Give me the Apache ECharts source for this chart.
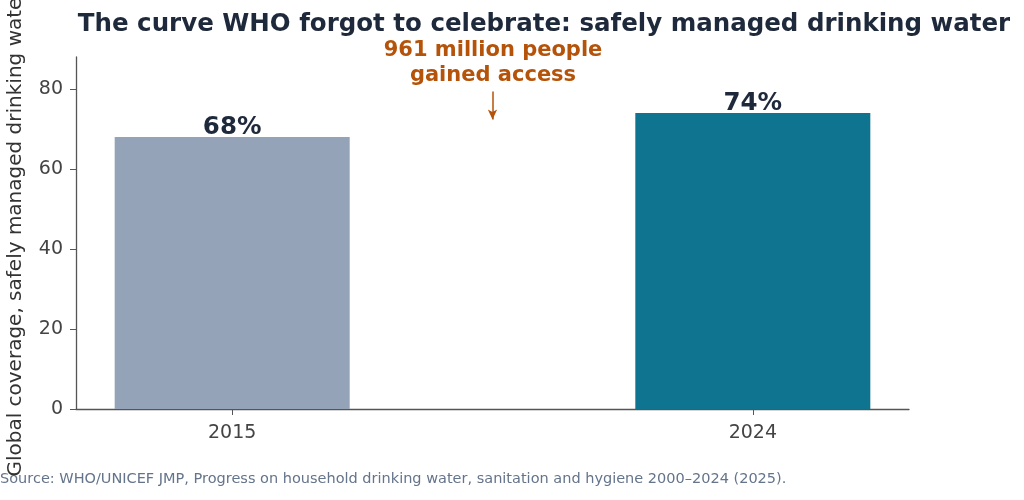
<!DOCTYPE html>
<html>
<head>
<meta charset="utf-8">
<script src="https://cdn.jsdelivr.net/npm/echarts@6/dist/echarts.min.js"></script>
<style>
  html, body { margin: 0; padding: 0; background: #fff; }
  #chart { width: 1024px; height: 500px; }
</style>
</head>
<body>
<div id="chart"></div>
<script>
// data
const years = ['2015', '2024'];
const coverage = [68, 74];
const barColors = ['#94a3b8', '#0e7490'];
const yTicks = [0, 20, 40, 60, 80];

const font = 'DejaVu Sans';
const chart = echarts.init(document.getElementById('chart'));

const barData = coverage.map((v, i) => ({
  value: [i, v],
  itemStyle: { color: barColors[i] }
}));

const option = {
  animation: false,
  textStyle: { fontFamily: font },
  title: {
    text: 'The curve WHO forgot to celebrate: safely managed drinking water',
    left: 539,
    textAlign: 'center',
    top: 7,
    textStyle: { fontFamily: font, fontSize: 24.5, fontWeight: 'bold', color: '#1e293b' }
  },
  grid: { left: 76, right: 115, top: 57, bottom: 91, outerBoundsMode: 'none', containLabel: false },
  xAxis: {
    type: 'value',
    min: -0.3,
    max: 1.3,
    splitLine: { show: false },
    axisLine: { show: true, onZero: false, lineStyle: { color: '#555', width: 1.3 } },
    axisTick: { show: true, customValues: [0, 1], length: 6, lineStyle: { color: '#555' } },
    axisLabel: {
      customValues: [0, 1],
      formatter: v => years[Math.round(v)],
      fontSize: 19, color: '#444', margin: 15, fontFamily: font
    }
  },
  yAxis: {
    type: 'value',
    min: 0,
    max: 88,
    name: 'Global coverage, safely managed drinking water',
    nameLocation: 'middle',
    nameGap: 50,
    nameTextStyle: { fontSize: 20, color: '#333', fontFamily: font },
    splitLine: { show: false },
    axisLine: { show: true, onZero: false, lineStyle: { color: '#555', width: 1.3 } },
    axisTick: { show: true, customValues: yTicks, length: 6, lineStyle: { color: '#555' } },
    axisLabel: { customValues: yTicks, fontSize: 19, color: '#444', margin: 13, fontFamily: font }
  },
  series: [{
    type: 'bar',
    data: barData,
    barWidth: 235,
    label: {
      show: true,
      position: 'top',
      distance: 0,
      offset: [0, 3],
      formatter: p => p.value[1] + '%',
      fontSize: 24.5,
      fontWeight: 'bold',
      color: '#1e293b',
      fontFamily: font
    },
    markLine: {
      silent: true,
      symbol: ['none', 'arrow'],
      symbolSize: [7, 10],
      label: { show: false },
      lineStyle: { color: '#b45309', width: 1.5, type: 'solid' },
      data: [[{ coord: [0.5, 79.4] }, { coord: [0.5, 72.4] }]]
    }
  }],
  graphic: [{
    type: 'text',
    x: 493,
    y: 38,
    style: {
      text: '961 million people\ngained access',
      align: 'center',
      verticalAlign: 'top',
      font: 'bold 21px "DejaVu Sans"',
      lineHeight: 25,
      fill: '#b45309'
    }
  }, {
    type: 'text',
    x: 0,
    y: 479,
    style: {
      text: 'Source: WHO/UNICEF JMP, Progress on household drinking water, sanitation and hygiene 2000–2024 (2025).',
      verticalAlign: 'middle',
      font: '14.5px "DejaVu Sans"',
      fill: '#64748b'
    }
  }]
};

chart.setOption(option);
</script>
</body>
</html>
